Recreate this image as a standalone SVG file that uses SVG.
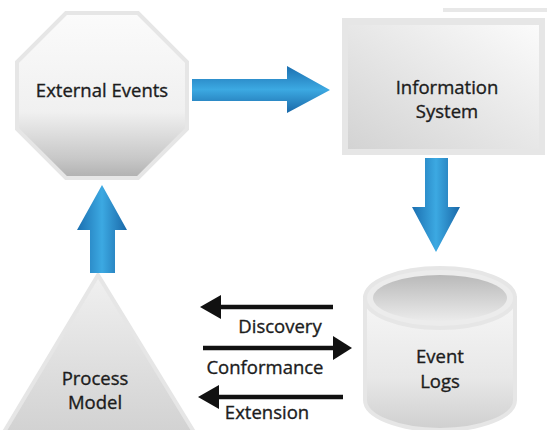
<svg xmlns="http://www.w3.org/2000/svg" width="547" height="430" viewBox="0 0 547 430">
  <defs>
    <linearGradient id="octFill" x1="0" y1="0" x2="0" y2="1">
      <stop offset="0" stop-color="#fbfbfb"/>
      <stop offset="0.6" stop-color="#f0f0f0"/>
      <stop offset="0.88" stop-color="#c8c8c8"/>
      <stop offset="1" stop-color="#b0b0b0"/>
    </linearGradient>
    <linearGradient id="rectFill" x1="1" y1="0" x2="0" y2="1">
      <stop offset="0" stop-color="#fbfbfb"/>
      <stop offset="1" stop-color="#d3d3d3"/>
    </linearGradient>
    <linearGradient id="triFill" x1="0" y1="0" x2="0" y2="1">
      <stop offset="0" stop-color="#f0f0f0"/>
      <stop offset="1" stop-color="#d2d2d2"/>
    </linearGradient>
    <linearGradient id="cylBody" x1="0" y1="0" x2="0" y2="1">
      <stop offset="0" stop-color="#f6f6f6"/>
      <stop offset="0.6" stop-color="#e8e8e8"/>
      <stop offset="1" stop-color="#cfcfcf"/>
    </linearGradient>
    <linearGradient id="cylTop" x1="0" y1="0" x2="0" y2="1">
      <stop offset="0" stop-color="#b9b9b9"/>
      <stop offset="1" stop-color="#ebebeb"/>
    </linearGradient>
    <linearGradient id="blueH" x1="0" y1="0" x2="0" y2="1">
      <stop offset="0" stop-color="#1b6fb0"/>
      <stop offset="0.5" stop-color="#3ca9e2"/>
      <stop offset="1" stop-color="#1a68a8"/>
    </linearGradient>
    <linearGradient id="blueV" x1="0" y1="0" x2="1" y2="0">
      <stop offset="0" stop-color="#1b6fb0"/>
      <stop offset="0.5" stop-color="#3ca9e2"/>
      <stop offset="1" stop-color="#1a68a8"/>
    </linearGradient>
    <style>
      .lbl { font-family: "Open Sans", "Liberation Sans", sans-serif; font-size: 18.5px; fill: #1c1c1c; stroke: #1c1c1c; stroke-width: 0.35; text-anchor: middle; }
      .edge { stroke: #e6e6e6; stroke-width: 4; }
      .black { stroke: #111; stroke-width: 4.5; fill: none; }
      .head { fill: #111; }
    </style>
  </defs>

  <!-- faint rule at the top right -->
  <rect x="443" y="8" width="104" height="4" fill="#e8e8e8"/>

  <g id="external-events">
    <polygon class="edge" points="66,13 138,13 187,62 187,129 138,178 66,178 17,129 17,62" fill="url(#octFill)"/>
    <text class="lbl" x="102" y="97">External Events</text>
  </g>

  <g id="information-system">
    <rect x="342" y="18" width="203" height="137" fill="#e6e6e6"/>
    <rect x="348" y="25" width="191" height="124" fill="url(#rectFill)"/>
    <text class="lbl" x="447" y="94">Information</text>
    <text class="lbl" x="447" y="118">System</text>
  </g>

  <g id="event-logs">
    <path class="edge" d="M365,298 L365,400 A75,30 0 0 0 515,400 L515,298 Z" fill="url(#cylBody)"/>
    <ellipse class="edge" cx="440" cy="298" rx="75" ry="30" fill="#ececec"/>
    <ellipse cx="440" cy="298" rx="67" ry="23" fill="url(#cylTop)"/>
    <text class="lbl" x="440" y="363">Event</text>
    <text class="lbl" x="440" y="388">Logs</text>
  </g>

  <g id="process-model">
    <polygon class="edge" points="98,275 194,432 4,432" fill="url(#triFill)"/>
    <text class="lbl" x="95" y="385">Process</text>
    <text class="lbl" x="95" y="409">Model</text>
  </g>

  <g id="connectors">
    <!-- block arrows between the nodes -->
    <polygon points="192,79 287,79 287,66 330,90 287,113 287,101 192,101" fill="url(#blueH)"/>
    <polygon points="425,158 448,158 448,207 460,207 436,252 412,207 425,207" fill="url(#blueV)"/>
    <polygon points="90,273 90,230 77,230 102,185 127,230 115,230 115,273" fill="url(#blueV)"/>

    <!-- Discovery -->
    <line class="black" x1="218" y1="307" x2="333" y2="307"/>
    <polygon class="head" points="200,307 221,295 221,319"/>
    <text class="lbl" x="280" y="333">Discovery</text>

    <!-- Conformance -->
    <line class="black" x1="203" y1="348" x2="335" y2="348"/>
    <polygon class="head" points="352,348 333,336 333,360"/>
    <text class="lbl" x="265" y="374">Conformance</text>

    <!-- Extension -->
    <line class="black" x1="216" y1="397" x2="343" y2="397"/>
    <polygon class="head" points="198,397 219,385 219,409"/>
    <text class="lbl" x="267" y="419">Extension</text>
  </g>
</svg>
